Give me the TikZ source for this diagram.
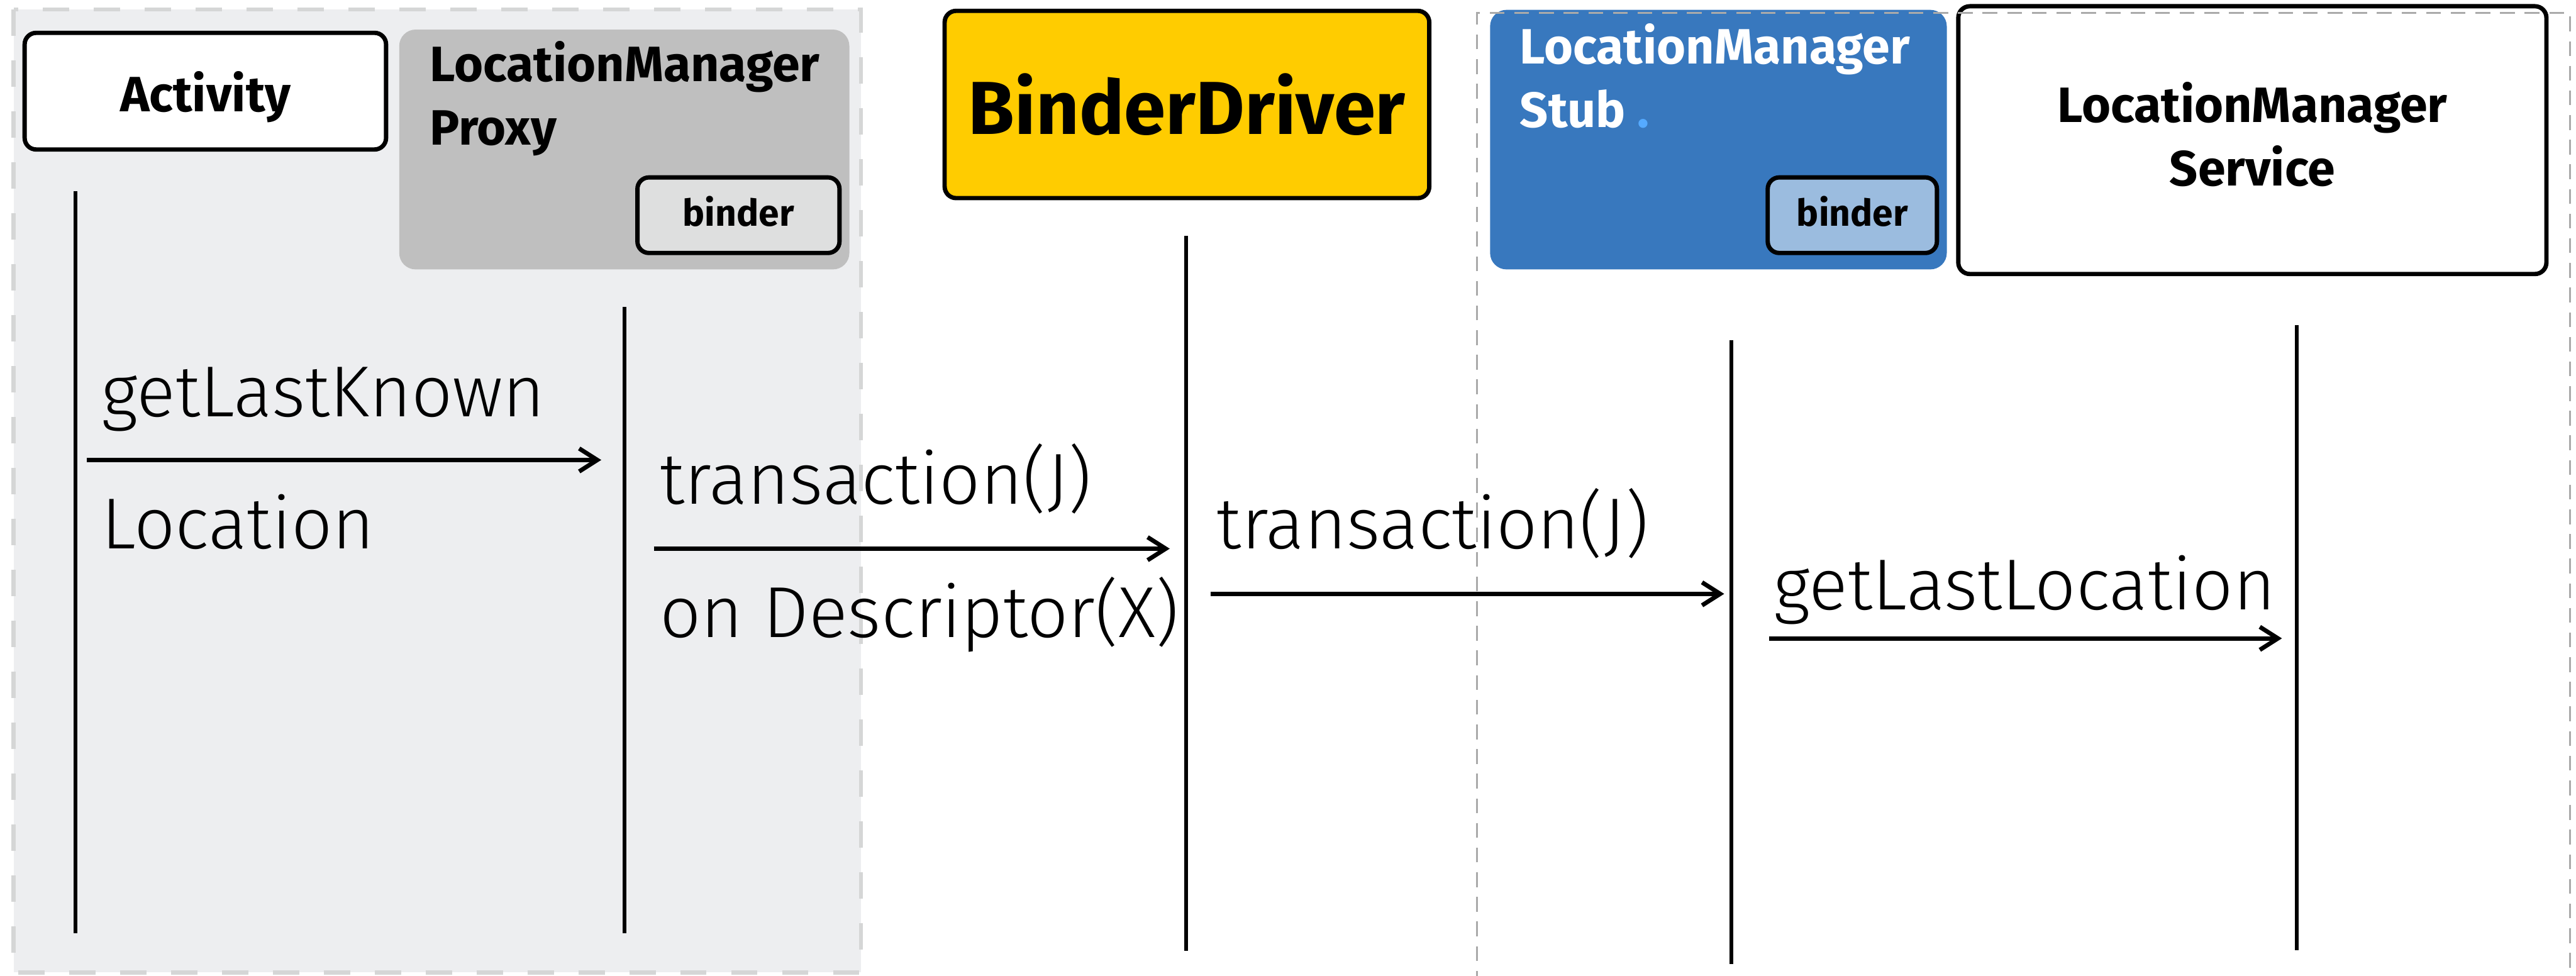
\documentclass[tikz,border=0pt]{standalone}
\usepackage{fontspec}
\setmainfont{Fira Sans}
\newfontfamily\callfont{Fira Sans Light}
\usetikzlibrary{arrows.meta}
\definecolor{laneGrey}{HTML}{EDEEF0}
\definecolor{laneBorder}{HTML}{D5D6D6}
\definecolor{proxyBody}{HTML}{BFBFBF}
\definecolor{proxyInner}{HTML}{DEDFDF}
\definecolor{driverBody}{HTML}{FFCC00}
\definecolor{stubBody}{HTML}{3878BE}
\definecolor{stubInner}{HTML}{9BBCDF}
\definecolor{stubDot}{HTML}{55AAFF}
\definecolor{remoteBorder}{HTML}{AAAAAA}
\tikzstyle{box} = [rectangle, rounded corners=0.7mm, draw=black, line width=0.75pt,
        inner sep=0pt, align=center, font={\bfseries\fontsize{8.6}{11}\selectfont}]
\tikzstyle{panel} = [rectangle, rounded corners=1mm, inner sep=0pt]
\tikzstyle{binder} = [box, text depth=1.5pt, font={\bfseries\fontsize{6.4}{8}\selectfont}]
\tikzstyle{title} = [anchor=north west, inner sep=0pt, align=left,
        font={\bfseries\fontsize{8.6}{11}\selectfont}]
\tikzstyle{lifeline} = [draw, line width=0.65pt]
\tikzstyle{call} = [draw, line width=0.75pt, -{Straight Barb[length=1.1mm,width=1.4mm]}]
\tikzstyle{callText} = [anchor=base west, inner sep=0pt, font={\callfont\fontsize{12.5}{15}\selectfont}]
\begin{document}
\begin{tikzpicture}[x=0.1mm, y=-0.1mm]
    \useasboundingbox (0,0) rectangle (1568,594);
    \draw[fill=laneGrey, draw=laneBorder, line width=0.7pt, dash pattern=on 1.6mm off 1.5mm]
        (8.3,5.8) rectangle (524,592);

    \node[box, fill=white, minimum width=22.0mm, minimum height=7.1mm,
        text height=7pt, text depth=0pt] (act) at (125,55.5) {Activity};

    \node[panel, fill=proxyBody, minimum width=27.4mm, minimum height=14.6mm] (proxy) at (380,91) {};
    \node[title] (proxyName) at (261,24.5) {LocationManager\\Proxy};
    \node[binder, fill=proxyInner, minimum width=12.3mm, minimum height=4.6mm] (pbinder) at (449.5,131) {binder};

    \node[box, fill=driverBody, minimum width=29.5mm, minimum height=11.4mm,
        font={\bfseries\fontsize{13}{15}\selectfont}] (drv) at (722.5,63.6) {BinderDriver};

    \node[panel, fill=stubBody, minimum width=27.8mm, minimum height=15.8mm] (stub) at (1046,85) {};
    \node[title, text=white] (stubName) at (924.5,13.5) {LocationManager\\Stub\hspace{2pt}{\color{stubDot}.}};
    \node[binder, fill=stubInner, minimum width=10.3mm, minimum height=4.6mm] (sbinder) at (1127.5,131) {binder};

    \node[box, fill=white, minimum width=35.8mm, minimum height=16.3mm,
        text depth=2.2pt] (srv) at (1371,85.3) {LocationManager\\Service};

    \draw[remoteBorder, line width=0.35pt, dash pattern=on 0.9mm off 0.6mm]
        (899,600) |- (1564.5,7.8) -- (1564.5,600);

    \coordinate (actTop) at (46,116.4);    \coordinate (actEnd) at (46,568);
    \coordinate (proxyTop) at (380,187);   \coordinate (proxyEnd) at (380,568);
    \coordinate (drvTop) at (722,143.6);   \coordinate (drvEnd) at (722,579);
    \coordinate (stubTop) at (1054,207);   \coordinate (stubEnd) at (1054,587);
    \coordinate (srvTop) at (1398,198);    \coordinate (srvEnd) at (1398,578.6);
    \draw[lifeline] (actTop) -- (actEnd);
    \draw[lifeline] (proxyTop) -- (proxyEnd);
    \draw[lifeline] (drvTop) -- (drvEnd);
    \draw[lifeline] (stubTop) -- (stubEnd);
    \draw[lifeline] (srvTop) -- (srvEnd);

    \coordinate (c1s) at (53,280);      \coordinate (c1e) at (366,280);
    \coordinate (c2s) at (398,334);     \coordinate (c2e) at (712,334);
    \coordinate (c3s) at (737,361.5);   \coordinate (c3e) at (1049.5,361.5);
    \coordinate (c4s) at (1077,388.6);  \coordinate (c4e) at (1389,388.6);
    \draw[call] (c1s) -- (c1e);
    \draw[call] (c2s) -- (c2e);
    \draw[call] (c3s) -- (c3e);
    \draw[call] (c4s) -- (c4e);

    \node[callText] (c1up) at (61,253.8) {getLastKnown};
    \node[callText] (c1down) at (61,334) {Location};
    \node[callText] (c2up) at (401,307) {transaction(J)};
    \node[callText] (c2down) at (401,388) {on Descriptor(X)};
    \node[callText] (c3up) at (740,334) {transaction(J)};
    \node[callText] (c4up) at (1079,371) {getLastLocation};
\end{tikzpicture}
\end{document}
